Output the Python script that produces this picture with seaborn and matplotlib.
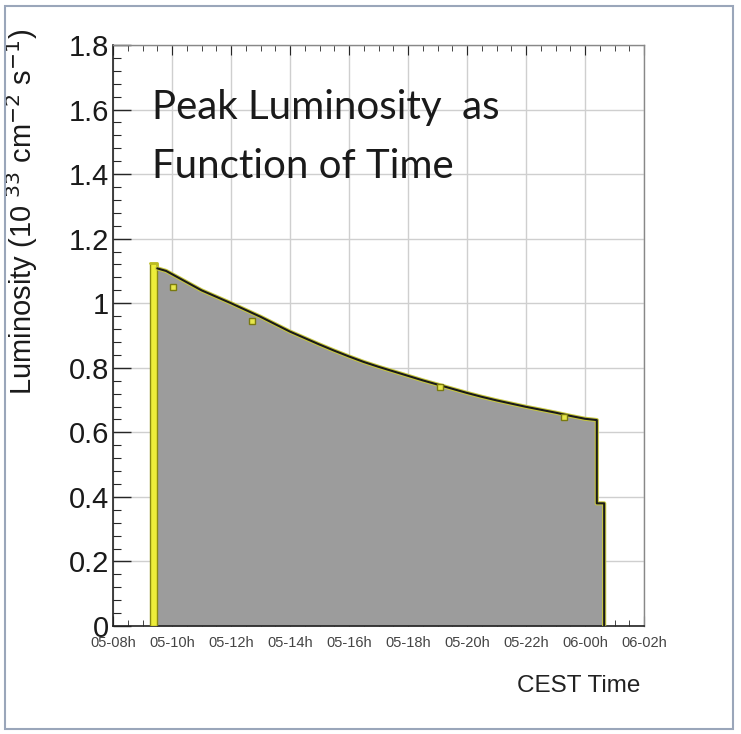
import matplotlib
matplotlib.use("Agg")
import matplotlib.pyplot as plt
import seaborn as sns
from matplotlib.patches import Rectangle
from matplotlib.ticker import MultipleLocator

# Data (hours since 05-00h, luminosity in 1e33 cm^-2 s^-1)
start_bar_time = 9.25
start_bar_lum = 1.125
time_h = [9.5, 9.8, 10.0, 10.5, 11.0, 11.5, 12.0, 12.5, 13.0, 13.5, 14.0, 14.5,
          15.0, 15.5, 16.0, 16.5, 17.0, 17.5, 18.0, 18.5, 19.0, 19.5, 20.0,
          20.5, 21.0, 21.5, 22.0, 22.5, 23.0, 23.5, 24.0, 24.4, 24.4, 24.65, 24.65]
lum = [1.108, 1.10, 1.09, 1.065, 1.04, 1.02, 1.0, 0.979, 0.958, 0.935, 0.912, 0.892,
       0.872, 0.853, 0.835, 0.818, 0.803, 0.789, 0.775, 0.761, 0.748, 0.735, 0.722,
       0.710, 0.699, 0.689, 0.679, 0.670, 0.661, 0.651, 0.642, 0.638, 0.38, 0.38, 0.0]
dip_time = [10.05, 12.7, 19.1, 23.3]
dip_lum = [1.05, 0.945, 0.741, 0.647]

tick_hours = [8, 10, 12, 14, 16, 18, 20, 22, 24, 26]
tick_labels = ['05-08h', '05-10h', '05-12h', '05-14h', '05-16h',
               '05-18h', '05-20h', '05-22h', '06-00h', '06-02h']
y_ticks = [0, 0.2, 0.4, 0.6, 0.8, 1, 1.2, 1.4, 1.6, 1.8]
y_tick_labels = ['0', '0.2', '0.4', '0.6', '0.8', '1', '1.2', '1.4', '1.6', '1.8']

sns.set_style("white")
plt.rcParams['font.family'] = ['Liberation Sans', 'DejaVu Sans']

fig = plt.figure(figsize=(7.41, 7.34), dpi=100)
fig.patches.append(Rectangle((5 / 741, 5 / 734), 728 / 741, 723 / 734,
                             transform=fig.transFigure, fill=False,
                             edgecolor='#9aa6ba', linewidth=1.5))
ax = fig.add_axes([113 / 741, 108 / 734, 531 / 741, 581 / 734])

# gray filled histogram
ax.fill_between(time_h, lum, color='#9c9c9c', linewidth=0, zorder=2)
# yellow first bin
ax.bar(start_bar_time, start_bar_lum, width=0.25, align='edge',
       color='#eded3a', edgecolor='#8a8a10', linewidth=1, zorder=3)
ax.plot([start_bar_time, start_bar_time + 0.25, start_bar_time + 0.25],
        [start_bar_lum, start_bar_lum, lum[0]], color='#bcbc20', lw=2, zorder=4)
# outline of the histogram
sns.lineplot(x=time_h, y=lum, color='#c8c840', linewidth=3,
             estimator=None, sort=False, ax=ax, zorder=4)
sns.lineplot(x=time_h, y=lum, color='#1a1a1a', linewidth=1.5,
             estimator=None, sort=False, ax=ax, zorder=5)
ax.plot(dip_time, dip_lum, linestyle='none', marker='s', markersize=5,
        markerfacecolor='#e6e64a', markeredgecolor='#7a7a10', zorder=6)

ax.set_xlim(8, 26)
ax.set_ylim(0, 1.8)
ax.set_xticks(tick_hours)
ax.set_xticklabels(tick_labels, fontsize=10.5, color='#444444')
ax.set_yticks(y_ticks)
ax.set_yticklabels(y_tick_labels, fontsize=21, color='#1a1a1a')
ax.xaxis.set_minor_locator(MultipleLocator(0.5))
ax.yaxis.set_minor_locator(MultipleLocator(0.04))
ax.tick_params(axis='y', which='major', direction='in', length=13, width=1,
               left=True, right=False, pad=3)
ax.tick_params(axis='y', which='minor', direction='in', length=6, width=0.8,
               left=True, right=False)
ax.tick_params(axis='x', which='major', direction='in', length=7, width=0.8,
               bottom=True, top=True, pad=7)
ax.tick_params(axis='x', which='minor', direction='in', length=4, width=0.6,
               bottom=True, top=True)
ax.grid(True, which='major', color='#cfcfcf', linewidth=1)
ax.set_axisbelow(True)

for side in ['left', 'bottom']:
    ax.spines[side].set_color('#222222')
    ax.spines[side].set_linewidth(1.2)
for side in ['top', 'right']:
    ax.spines[side].set_color('#888888')
    ax.spines[side].set_linewidth(1)

ax.set_ylabel('Luminosity (10 $^{33}$ cm$^{-2}$ s$^{-1}$)', fontsize=21,
              color='#1a1a1a')
ax.yaxis.set_label_coords(-0.138, 0.713)

ax.text(0.073, 0.842, 'Peak Luminosity  as\nFunction of Time',
        transform=ax.transAxes, fontsize=29, family=['Lato', 'DejaVu Sans'],
        color='#1a1a1a', va='center', ha='left', linespacing=1.75, zorder=7)

fig.text(640 / 741, 1 - 686 / 734, 'CEST Time', fontsize=17.5, ha='right',
         va='center', color='#222222')

fig.savefig('out.png', dpi=100)
